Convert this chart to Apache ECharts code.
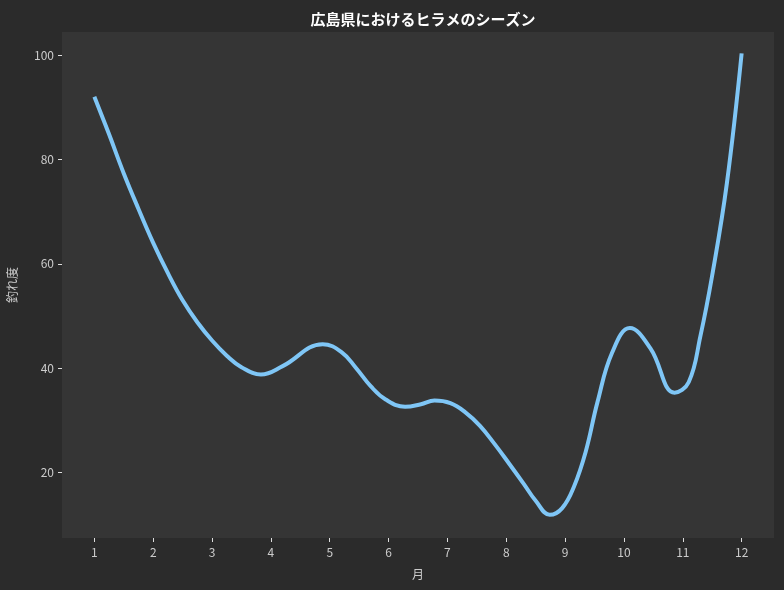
<!DOCTYPE html>
<html>
<head>
<meta charset="utf-8">
<script src="https://cdn.jsdelivr.net/npm/echarts@6/dist/echarts.min.js"></script>
<style>
html,body{margin:0;padding:0;background:#2b2b2b;}
#c{width:784px;height:590px;}
</style>
</head>
<body>
<div id="c"></div>
<script>
// Curve samples (month, 釣れ度), including the turning points
const months = [1.00,1.25,1.50,1.75,2.00,2.25,2.50,2.75,3.00,3.25,3.50,3.83,4.20,4.88,5.20,5.45,5.70,5.95,6.28,6.55,6.78,7.05,7.30,7.55,7.80,8.05,8.30,8.50,8.74,8.95,9.15,9.35,9.55,9.80,10.10,10.45,10.86,11.10,11.30,11.50,11.75,12.00];
const values = [92.0,84.8,77.3,70.5,64.0,58.2,53.0,48.8,45.3,42.4,40.2,38.8,40.4,44.6,43.1,40.0,36.5,34.0,32.6,33.1,33.8,33.3,31.6,29.0,25.5,21.7,17.8,14.6,11.9,13.2,17.3,24.0,33.5,43.0,47.7,43.8,35.3,37.3,46.2,57.8,75.5,100.3];
const xTicks = [1,2,3,4,5,6,7,8,9,10,11,12];
const yTicks = [20,40,60,80,100];

const data = months.map((m,i)=>[m, values[i]]);
const chart = echarts.init(document.getElementById('c'), null, {renderer:'canvas'});
const font = '"Noto Sans CJK JP", "Noto Sans", sans-serif';
chart.setOption({
  backgroundColor: '#2b2b2b',
  animation: false,
  title: {
    text: '広島県におけるヒラメのシーズン',
    left: 418, top: 7, textAlign: 'center',
    textStyle: {color:'#ffffff', fontSize:15, fontWeight:'bold', fontFamily:font}
  },
  grid: {left:62, right:10, top:32, bottom:52, show:true, backgroundColor:'#353535', borderWidth:0, containLabel:false, outerBoundsMode:'none'},
  xAxis: {
    type:'value', min:0.45, max:12.55,
    name:'月', nameLocation:'middle', nameGap:30,
    nameTextStyle:{color:'#cccccc', fontSize:12, fontFamily:font},
    axisLine:{show:false},
    axisTick:{show:true, customValues:xTicks, length:4, lineStyle:{color:'#dddddd', width:1}},
    axisLabel:{customValues:xTicks, color:'#cccccc', fontSize:12, fontFamily:font, margin:8},
    splitLine:{show:false}
  },
  yAxis: {
    type:'value', min:7.47, max:104.4,
    name:'釣れ度', nameLocation:'middle', nameGap:44, nameRotate:90,
    nameTextStyle:{color:'#cccccc', fontSize:12, fontFamily:font},
    axisLine:{show:false},
    axisTick:{show:true, customValues:yTicks, length:4, lineStyle:{color:'#dddddd', width:1}},
    axisLabel:{customValues:yTicks, color:'#cccccc', fontSize:12, fontFamily:font, margin:8},
    splitLine:{show:false}
  },
  series: [{
    type:'line', data:data, smooth:0.42, showSymbol:false,
    lineStyle:{color:'#7fc6f6', width:4, cap:'butt', join:'round'}
  }]
});
</script>
</body>
</html>
